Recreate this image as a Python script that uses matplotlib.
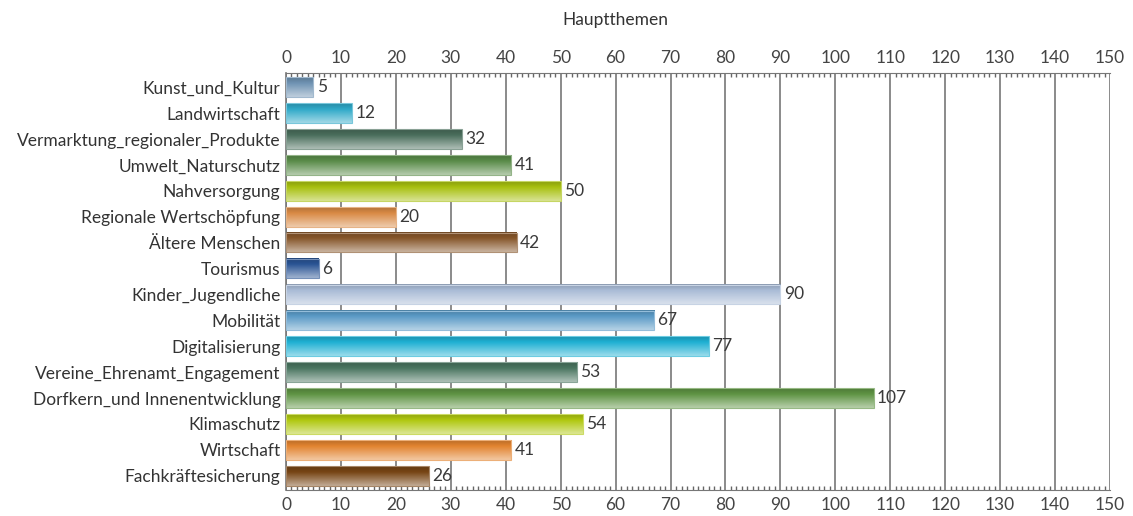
import numpy as np
import matplotlib
matplotlib.use("Agg")
import matplotlib.pyplot as plt
from matplotlib.colors import to_rgb
from matplotlib.ticker import MultipleLocator

plt.rcParams['font.family'] = ['Lato', 'DejaVu Sans']

categories = [
    "Kunst_und_Kultur",
    "Landwirtschaft",
    "Vermarktung_regionaler_Produkte",
    "Umwelt_Naturschutz",
    "Nahversorgung",
    "Regionale Wertschöpfung",
    "Ältere Menschen",
    "Tourismus",
    "Kinder_Jugendliche",
    "Mobilität",
    "Digitalisierung",
    "Vereine_Ehrenamt_Engagement",
    "Dorfkern_und Innenentwicklung",
    "Klimaschutz",
    "Wirtschaft",
    "Fachkräftesicherung",
]
values = [5, 12, 32, 41, 50, 20, 42, 6, 90, 67, 77, 53, 107, 54, 41, 26]
bar_colors = [
    "#6f93b3", "#2fa9c8", "#4a6e5c", "#5a8c4a", "#a8c010", "#d98a45",
    "#86562a", "#2a5494", "#a9bbd6", "#5a9ac6", "#1fb0d3", "#4a7560",
    "#5f9444", "#b0c810", "#e28430", "#774515",
]
x_ticks = list(range(0, 151, 10))
title = "Hauptthemen"

W, H = 1133, 516
fig = plt.figure(figsize=(W / 100, H / 100), dpi=100)
ax = fig.add_axes([286 / W, 1 - 490 / H, (1110 - 286) / W, (490 - 73) / H])

n = len(categories)
ypos = np.arange(n)
bar_h = 0.76

ax.set_xlim(0, 150)
ax.set_ylim(n - 0.45, -0.55)

bars = ax.barh(ypos, values, height=bar_h, color="none", edgecolor="none", zorder=2)


def gradient_image(color):
    c = np.array(to_rgb(color))
    t = np.linspace(0, 1, 64)[:, None]
    # darker at the top edge, fading toward a pale tint at the bottom
    top = c * 0.82
    mid = c
    bottom = c + (1 - c) * 0.55
    rows = np.where(t < 0.3,
                    top + (mid - top) * (t / 0.3),
                    mid + (bottom - mid) * ((t - 0.3) / 0.7))
    return np.repeat(rows[:, None, :], 2, axis=1)


for rect, col, v, y in zip(bars, bar_colors, values, ypos):
    x0, y0 = rect.get_x(), rect.get_y()
    w, h = rect.get_width(), rect.get_height()
    ax.imshow(gradient_image(col), extent=(x0, x0 + w, y0 + h, y0),
              aspect="auto", interpolation="bilinear", zorder=2)
    edge = np.array(to_rgb(col))
    edge = edge + (1 - edge) * 0.35
    ax.add_patch(plt.Rectangle((x0, y0), w, h, fill=False,
                               edgecolor=edge, linewidth=0.8, zorder=3))
    ax.text(v + 0.6, y, str(v), va="center", ha="left",
            fontsize=12.5, color="#3a3a3a", zorder=4)

ax.set_yticks(ypos)
ax.set_yticklabels(categories, fontsize=12.5, color="#333333")
ax.tick_params(axis="y", length=0, pad=4)

ax.set_xticks(x_ticks)
ax.xaxis.set_minor_locator(MultipleLocator(1))
ax.tick_params(axis="x", which="both", top=True, bottom=True,
               labeltop=True, labelbottom=True, labelsize=12.5,
               labelcolor="#444444", pad=5)
ax.tick_params(axis="x", which="major", length=0)
ax.tick_params(axis="x", which="minor", length=3, width=1.0,
               color="#666666", direction="in")
ax.grid(axis="x", which="major", color="#777777", linewidth=1.2, zorder=0)
ax.set_axisbelow(True)

for side in ("top", "bottom"):
    ax.spines[side].set_color("#777777")
    ax.spines[side].set_linewidth(0.8)
ax.spines["left"].set_color("#777777")
ax.spines["left"].set_linewidth(1.2)
ax.spines["right"].set_visible(False)

fig.text(615 / W, 1 - 20 / H, title, ha="center", va="center",
         fontsize=12.5, color="#333333")

fig.savefig("out.png", dpi=100, facecolor="white")
